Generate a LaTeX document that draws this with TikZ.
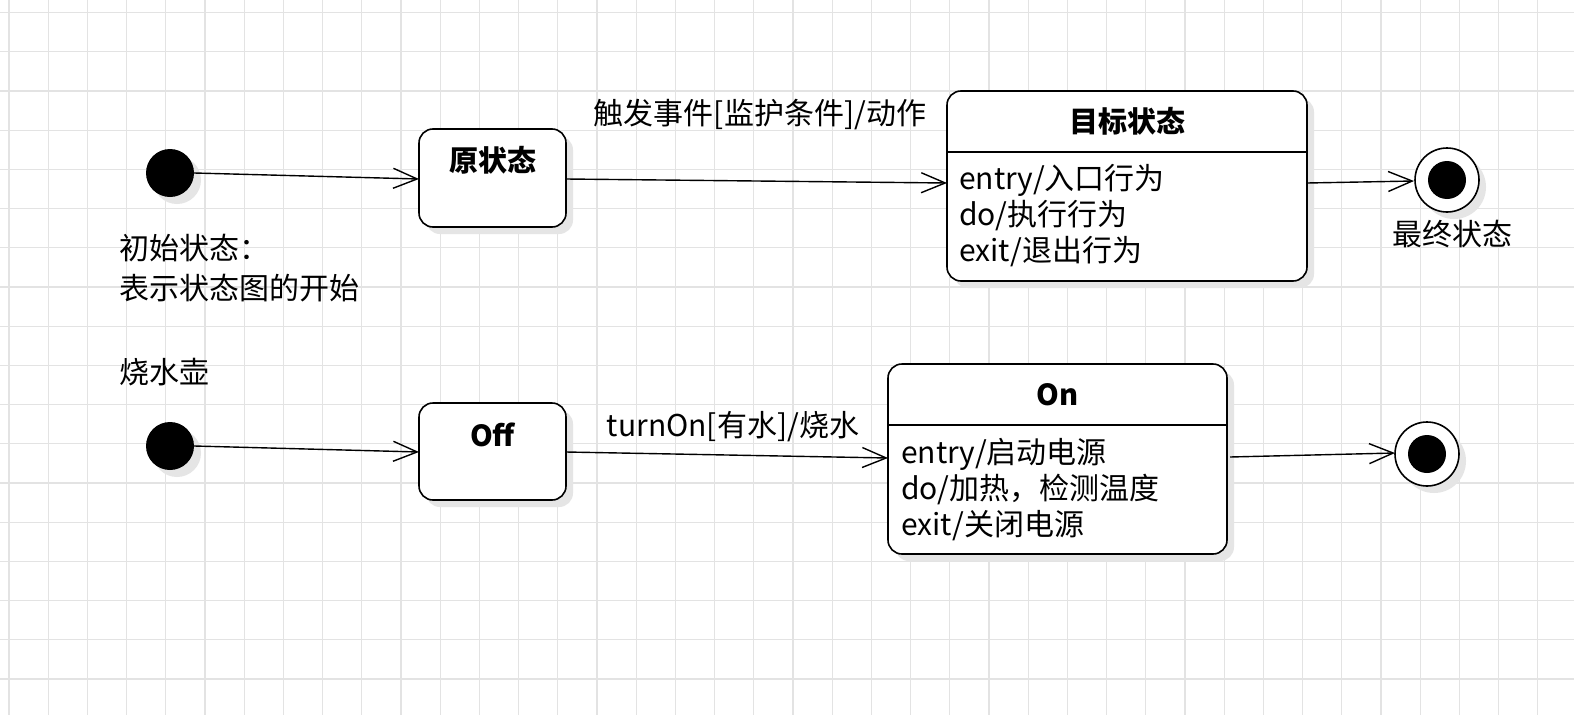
\documentclass[tikz,border=0pt]{standalone}
\usetikzlibrary{arrows.meta}
\usepackage{fontspec}
\setmainfont{Noto Sans CJK SC}
\begin{document}
\begin{tikzpicture}[x=1pt,y=-1pt,
  st/.style={draw,line width=1.6pt,rounded corners=14pt,fill=white},
  shd/.style={fill=black!10,rounded corners=14pt},
  dot/.style={circle,fill=black,minimum size=48pt,inner sep=0},
  arr/.style={line width=1.4pt,-{Straight Barb[length=24pt,width=20pt,line width=1.4pt]}},
  lbl/.style={font=\fontsize{30}{34}\selectfont,inner sep=0},
  ttl/.style={font=\fontsize{29}{34}\selectfont\bfseries,inner sep=0},
  txt/.style={font=\fontsize{30}{36}\selectfont,inner sep=0,align=left,anchor=north west}]
\useasboundingbox (0,0) rectangle (1574,715);
\fill[white] (0,0) rectangle (1574,715);
\foreach \i in {0,...,40} \draw[black!11,line width=1.2pt] (9+39.2*\i,0) -- (9+39.2*\i,715);
\foreach \i in {0,...,18} \draw[black!11,line width=1.2pt] (0,12.5+39.2*\i) -- (1574,12.5+39.2*\i);
% shadows
\fill[black!10] (177,180) circle (24);
\fill[black!10] (177,453) circle (24);
\fill[shd] (426,136) rectangle (573,234);
\fill[shd] (954,98) rectangle (1314,288);
\fill[shd] (426,410) rectangle (573,507);
\fill[shd] (895,371) rectangle (1234,561);
\fill[black!10] (1454,187) circle (32);
\fill[black!10] (1434,461) circle (32);
% row 1
\node[dot] (i1) at (170,173) {};
\draw[st] (419,129) rectangle (566,227);
\node[ttl] (s1) at (492.5,160) {原状态};
\coordinate (s1w) at (419,179); \coordinate (s1e) at (566,179);
\draw[st] (947,91) rectangle (1307,281);
\draw[line width=1.6pt] (947,152) -- (1307,152);
\node[ttl] (t1) at (1127,121) {目标状态};
\node[txt] (t1b) at (959,164) {entry/入口行为\\do/执行行为\\exit/退出行为};
\coordinate (t1w) at (947,183); \coordinate (t1e) at (1307,183);
\draw[line width=1.6pt,fill=white] (1447,180) circle (32);
\node[circle,fill=black,minimum size=38pt,inner sep=0] (f1) at (1447,180) {};
\draw[arr] (i1.east) -- (s1w);
\draw[arr] (s1e) -- (t1w);
\draw[arr] (t1e) -- (1414,181) coordinate (f1w);
\node[lbl] (l1) at (760,115) {触发事件[监护条件]/动作};
\node[lbl] (l2) at (1452,234) {最终状态};
\node[txt,font=\fontsize{30}{40}\selectfont] (l3) at (119,234) {初始状态：\\表示状态图的开始};
\node[lbl,anchor=west] (l4) at (119,372) {烧水壶};
% row 2
\node[dot] (i2) at (170,446) {};
\draw[st] (419,403) rectangle (566,500);
\node[ttl] (s2) at (492.5,435) {Off};
\coordinate (s2w) at (419,452); \coordinate (s2e) at (566,452);
\draw[st] (888,364) rectangle (1227,554);
\draw[line width=1.6pt] (888,425) -- (1227,425);
\node[ttl] (t2) at (1057.5,395) {On};
\node[txt] (t2b) at (901,438) {entry/启动电源\\do/加热，检测温度\\exit/关闭电源};
\coordinate (t2w) at (888,458); \coordinate (t2e) at (1230,457);
\draw[line width=1.6pt,fill=white] (1427,454) circle (32);
\node[circle,fill=black,minimum size=38pt,inner sep=0] (f2) at (1427,454) {};
\coordinate (f2w) at (1395,453);
\draw[arr] (i2.east) -- (s2w);
\draw[arr] (s2e) -- (t2w);
\draw[arr] (t2e) -- (f2w);
\node[lbl] (l5) at (733,427) {turnOn[有水]/烧水};
\end{tikzpicture}
\end{document}
